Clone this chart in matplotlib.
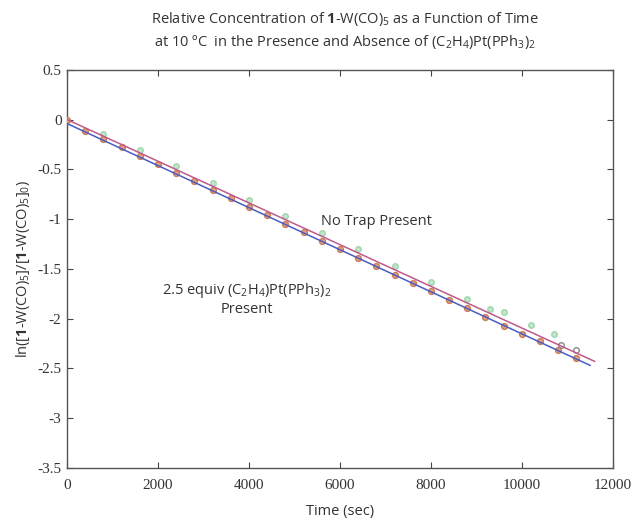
import matplotlib
matplotlib.use("Agg")
import matplotlib.pyplot as plt

plt.rcParams['font.family'] = ['Open Sans', 'DejaVu Sans']
plt.rcParams['mathtext.fontset'] = 'custom'
plt.rcParams['mathtext.rm'] = 'Open Sans'
plt.rcParams['mathtext.it'] = 'Open Sans:italic'
plt.rcParams['mathtext.bf'] = 'Open Sans:bold'
plt.rcParams['axes.unicode_minus'] = False

# Data: trap present (2.5 equiv Pt complex)
t_trap = [0, 400, 800, 1200, 1600, 2000, 2400, 2800, 3200, 3600, 4000, 4400, 4800,
          5200, 5600, 6000, 6400, 6800, 7200, 7600, 8000, 8400, 8800, 9200, 9600,
          10000, 10400, 10800, 11200]
y_trap = [0.00, -0.11, -0.20, -0.28, -0.37, -0.45, -0.54, -0.62, -0.71, -0.79,
          -0.88, -0.96, -1.05, -1.13, -1.22, -1.30, -1.39, -1.47, -1.56, -1.64,
          -1.72, -1.81, -1.89, -1.98, -2.07, -2.15, -2.23, -2.32, -2.40]

# Data: no trap
t_free = [800, 1600, 2400, 3200, 4000, 4800, 5600, 6400, 7200, 8000, 8800, 9300, 9600, 10200, 10700]
y_free = [-0.14, -0.31, -0.47, -0.64, -0.81, -0.97, -1.14, -1.30, -1.47, -1.63, -1.80, -1.90, -1.93, -2.06, -2.15]

# late points (open)
t_late = [10850, 11200]
y_late = [-2.27, -2.32]

# Fit lines (endpoints)
fit_trap_t = [0, 11500]
fit_trap_y = [-0.04, -2.47]
fit_free_t = [0, 11600]
fit_free_y = [0.00, -2.43]

fig = plt.figure(figsize=(6.39, 5.21), dpi=100)
ax = fig.add_axes([0.105, 0.102, 0.854, 0.764])

ax.plot(t_free, y_free, 'o', ms=4, color='#b5e2c0', mec='#8fcf9f', alpha=0.8, zorder=2)
ax.plot(t_trap, y_trap, 'o', ms=4.2, color='#eba27c', mec='#c97c58', zorder=3)
ax.plot(t_late, y_late, 'o', ms=4, mfc='none', mec='#888888', zorder=3)
ax.plot(fit_free_t, fit_free_y, '-', color='#c05a8a', lw=1.1, zorder=4)
ax.plot(fit_trap_t, fit_trap_y, '-', color='#4a5cc0', lw=1.1, zorder=4)

ax.set_xlim(0, 12000)
ax.set_ylim(-3.5, 0.5)
ax.set_xticks([0, 2000, 4000, 6000, 8000, 10000, 12000])
ax.set_yticks([0.5, 0, -0.5, -1, -1.5, -2, -2.5, -3, -3.5])
ax.set_yticklabels(['0.5', '0', '-0.5', '-1', '-1.5', '-2', '-2.5', '-3', '-3.5'])
ax.tick_params(direction='in', top=True, right=True, length=4, width=0.8, colors='#444444')
for lab in ax.get_xticklabels() + ax.get_yticklabels():
    lab.set_fontfamily('Liberation Serif')
    lab.set_fontsize(11)
    lab.set_color('#333333')
ax.tick_params(axis='x', pad=8)
ax.tick_params(axis='y', pad=4)
for s in ax.spines.values():
    s.set_color('#555555')
    s.set_linewidth(1.0)

ax.set_xlabel('Time (sec)', fontsize=10.5, color='#333333', labelpad=9)
ax.set_ylabel(r'ln([$\mathbf{1}$-W(CO)$_5$]/[$\mathbf{1}$-W(CO)$_5$]$_0$)', fontsize=10.5, color='#333333', labelpad=4)

ax.text(6800, -1.02, 'No Trap Present', fontsize=10.5, ha='center', va='center', color='#333333')
ax.text(3950, -1.72, r'2.5 equiv (C$_2$H$_4$)Pt(PPh$_3$)$_2$', fontsize=10.5, ha='center', va='center', color='#333333')
ax.text(3950, -1.91, 'Present', fontsize=10.5, ha='center', va='center', color='#333333')

fig.text(0.54, 0.963, r'Relative Concentration of $\mathbf{1}$-W(CO)$_5$ as a Function of Time', ha='center', va='center', fontsize=10.5, color='#333333')
fig.text(0.54, 0.92, r'at 10 ºC  in the Presence and Absence of (C$_2$H$_4$)Pt(PPh$_3$)$_2$', ha='center', va='center', fontsize=10.5, color='#333333')

fig.savefig('out.png', dpi=100)
